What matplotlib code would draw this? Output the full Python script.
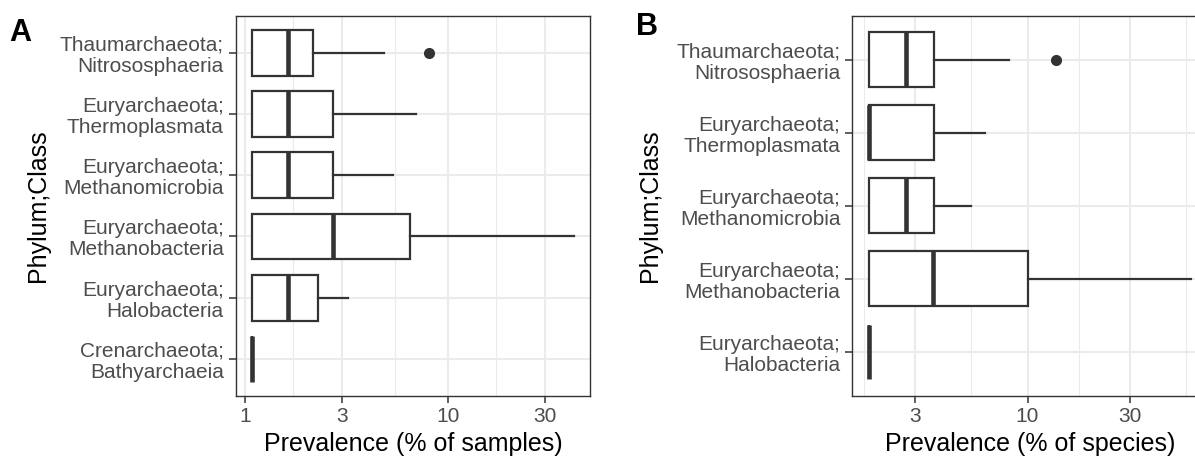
import matplotlib
matplotlib.use("Agg")
import matplotlib.pyplot as plt
from matplotlib.ticker import FixedLocator, FixedFormatter, NullFormatter

plt.rcParams['font.family'] = ['Liberation Sans', 'DejaVu Sans']

# ---------------- Panel A data (prevalence, % of samples) ----------------
a_categories = ["Thaumarchaeota;\nNitrososphaeria",
                "Euryarchaeota;\nThermoplasmata",
                "Euryarchaeota;\nMethanomicrobia",
                "Euryarchaeota;\nMethanobacteria",
                "Euryarchaeota;\nHalobacteria",
                "Crenarchaeota;\nBathyarchaeia"]
a_whislo = [1.087, 1.087, 1.087, 1.087, 1.087, 1.087]
a_q1     = [1.087, 1.087, 1.087, 1.087, 1.087, 1.087]
a_med    = [1.627, 1.627, 1.627, 2.71, 1.627, 1.087]
a_q3     = [2.17, 2.72, 2.72, 6.50, 2.29, 1.087]
a_whishi = [4.84, 6.98, 5.38, 41.8, 3.22, 1.087]
a_fliers = [[8.06], [], [], [], [], []]
a_ticks = [1, 3, 10, 30]
a_tick_labels = ["1", "3", "10", "30"]

# ---------------- Panel B data (prevalence, % of species) ----------------
b_categories = ["Thaumarchaeota;\nNitrososphaeria",
                "Euryarchaeota;\nThermoplasmata",
                "Euryarchaeota;\nMethanomicrobia",
                "Euryarchaeota;\nMethanobacteria",
                "Euryarchaeota;\nHalobacteria"]
b_whislo = [1.819, 1.819, 1.819, 1.819, 1.819]
b_q1     = [1.819, 1.819, 1.819, 1.819, 1.819]
b_med    = [2.724, 1.819, 2.724, 3.64, 1.819]
b_q3     = [3.65, 3.65, 3.65, 10.0, 1.819]
b_whishi = [8.16, 6.33, 5.43, 57.6, 1.819]
b_fliers = [[13.6], [], [], [], []]
b_ticks = [3, 10, 30]
b_tick_labels = ["3", "10", "30"]

minor_breaks = [3 ** 0.5, 30 ** 0.5, 300 ** 0.5, 3000 ** 0.5]

W, H = 1195, 461
fig = plt.figure(figsize=(W / 100, H / 100), dpi=100)

DARK = '#333333'
GRIDC = '#EBEBEB'


def panel(rect, cats, whislo, q1, med, q3, whishi, fliers, ticks, tlabels,
          xlabel, xlim, ylabel_x):
    ax = fig.add_axes(rect)
    n = len(cats)
    pos = [n - i for i in range(n)]
    stats = []
    for i in range(n):
        stats.append(dict(whislo=whislo[i], q1=q1[i], med=med[i], q3=q3[i],
                          whishi=whishi[i], fliers=fliers[i]))
    ax.set_xscale('log')
    ax.bxp(stats, positions=pos, widths=0.75, orientation='horizontal',
           showcaps=False, patch_artist=True, manage_ticks=False,
           boxprops=dict(facecolor='white', edgecolor=DARK, linewidth=1.6),
           medianprops=dict(color=DARK, linewidth=3.3, solid_capstyle='butt'),
           whiskerprops=dict(color=DARK, linewidth=1.6),
           flierprops=dict(marker='o', markerfacecolor=DARK, markeredgecolor=DARK,
                           markersize=7))
    ax.set_xlim(*xlim)
    ax.set_ylim(0.4, n + 0.6)
    ax.xaxis.set_major_locator(FixedLocator(ticks))
    ax.xaxis.set_major_formatter(FixedFormatter(tlabels))
    ax.xaxis.set_minor_locator(FixedLocator(minor_breaks))
    ax.xaxis.set_minor_formatter(NullFormatter())
    ax.set_yticks(pos)
    ax.set_yticklabels(cats, linespacing=1.12)
    ax.set_axisbelow(True)
    ax.grid(True, which='major', color=GRIDC, linewidth=1.5)
    ax.grid(True, which='minor', axis='x', color=GRIDC, linewidth=0.8)
    ax.tick_params(axis='both', which='major', length=4.8, width=1.1,
                   color=DARK, labelcolor='#4D4D4D', labelsize=15)
    ax.tick_params(axis='y', pad=4)
    ax.tick_params(axis='x', pad=3)
    ax.tick_params(axis='x', which='minor', length=0)
    for s in ax.spines.values():
        s.set_color(DARK)
        s.set_linewidth(1.0)
    ax.set_xlabel(xlabel, fontsize=18, color='black', va='top')
    ax.xaxis.set_label_coords(0.5, -0.0956)
    ax.set_ylabel('Phylum;Class', fontsize=18, color='black', va='center')
    ax.yaxis.set_label_coords(ylabel_x, 0.5)
    return ax


bottom = (H - 395.7) / H
height = 379.7 / H

panel([236 / W, bottom, 354 / W, height], a_categories, a_whislo, a_q1, a_med,
      a_q3, a_whishi, a_fliers, a_ticks, a_tick_labels,
      'Prevalence (% of samples)', (0.906, 50.2), (38 - 236) / 354)

panel([852.5 / W, bottom, 354.5 / W, height], b_categories, b_whislo, b_q1, b_med,
      b_q3, b_whishi, b_fliers, b_ticks, b_tick_labels,
      'Prevalence (% of species)', (1.530, 68.5), (650 - 852.5) / 354.5)

fig.text(9 / W, 1 - 41 / H, 'A', fontsize=22, fontweight='bold', va='baseline')
fig.text(636 / W, 1 - 35 / H, 'B', fontsize=22, fontweight='bold', va='baseline')

fig.savefig('out.png', dpi=100)
